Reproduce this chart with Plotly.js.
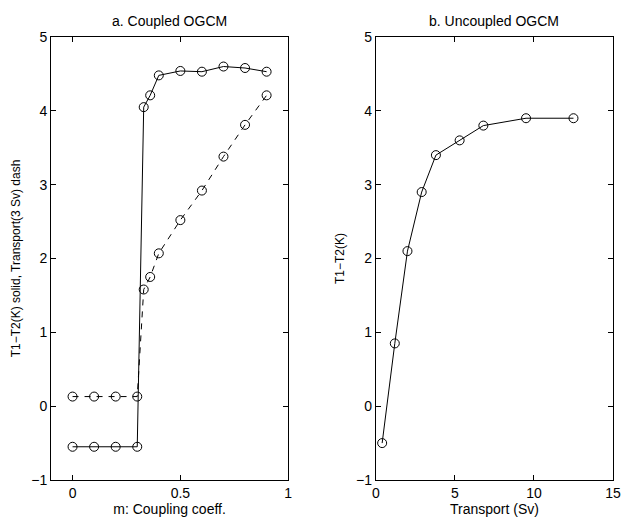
<!DOCTYPE html>
<html>
<head>
<meta charset="utf-8">
<script src="https://cdn.plot.ly/plotly-3.0.1.min.js"></script>
<style>html,body{margin:0;padding:0;background:#fff;}#chart{width:621px;height:517px;}</style>
</head>
<body>
<div id="chart"></div>
<script>
// Panel a: coupled OGCM
const couplingM = [0, 0.1, 0.2, 0.3, 0.33, 0.36, 0.4, 0.5, 0.6, 0.7, 0.8, 0.9];
const coupledDeltaT = [-0.55, -0.55, -0.55, -0.55, 4.05, 4.21, 4.48, 4.54, 4.53, 4.60, 4.58, 4.53];
const coupledTransport = [0.13, 0.13, 0.13, 0.13, 1.58, 1.75, 2.07, 2.52, 2.92, 3.38, 3.81, 4.21];
// Panel b: uncoupled OGCM
const uncoupledTransport = [0.4, 1.2, 2.0, 2.9, 3.8, 5.3, 6.8, 9.5, 12.5];
const uncoupledDeltaT = [-0.5, 0.85, 2.1, 2.9, 3.4, 3.6, 3.8, 3.9, 3.9];

const leftTicks = [0, 0.5, 1];
const leftTickText = ['0', '0.5', '1'];
const rightTicks = [0, 5, 10, 15];
const yTicks = [-1, 0, 1, 2, 3, 4, 5];

const FONT = 'Liberation Sans, Arial, Helvetica, sans-serif';
const marker = {symbol: 'circle-open', size: 9, color: '#000', line: {width: 1, color: '#000'}};

const traces = [
  {x: couplingM, y: coupledDeltaT, mode: 'lines+markers', line: {color: '#000', width: 1}, marker: marker, xaxis: 'x', yaxis: 'y'},
  {x: couplingM, y: coupledTransport, mode: 'lines+markers', line: {color: '#000', width: 1, dash: '6px,6px'}, marker: marker, xaxis: 'x', yaxis: 'y'},
  {x: uncoupledTransport, y: uncoupledDeltaT, mode: 'lines+markers', line: {color: '#000', width: 1}, marker: marker, xaxis: 'x2', yaxis: 'y2'}
];

const axisCommon = {
  showline: true, linecolor: '#000', linewidth: 1, mirror: 'ticks',
  ticks: 'inside', ticklen: 5, tickcolor: '#000', tickwidth: 1,
  showgrid: false, zeroline: false,
  tickfont: {family: FONT, size: 14, color: '#000'}
};

const layout = {
  width: 621, height: 517,
  paper_bgcolor: '#fff', plot_bgcolor: '#fff',
  showlegend: false,
  margin: {l: 51, r: 8, t: 37, b: 37},
  font: {family: FONT, color: '#000'},
  xaxis: Object.assign({}, axisCommon, {domain: [0, 0.422], range: [-0.1, 1], tickvals: leftTicks, ticktext: leftTickText,
    title: {text: 'm: Coupling coeff.', font: {family: FONT, size: 14}, standoff: 3}}),
  yaxis: Object.assign({}, axisCommon, {range: [-1, 5], tickvals: yTicks,
    title: {text: 'T1\u2212T2(K) solid, Transport(3 Sv) dash', font: {family: FONT, size: 12}, standoff: 8}}),
  xaxis2: Object.assign({}, axisCommon, {domain: [0.578, 1], range: [0, 15], tickvals: rightTicks, anchor: 'y2',
    title: {text: 'Transport (Sv)', font: {family: FONT, size: 14}, standoff: 3}}),
  yaxis2: Object.assign({}, axisCommon, {range: [-1, 5], tickvals: yTicks, anchor: 'x2',
    title: {text: 'T1\u2212T2(K)', font: {family: FONT, size: 12}, standoff: 8}}),
  annotations: [
    {text: 'a. Coupled OGCM', xref: 'x domain', yref: 'paper', x: 0.5, y: 1, yanchor: 'bottom', showarrow: false, font: {family: FONT, size: 14}, yshift: 6},
    {text: 'b. Uncoupled OGCM', xref: 'x2 domain', yref: 'paper', x: 0.5, y: 1, yanchor: 'bottom', showarrow: false, font: {family: FONT, size: 14}, yshift: 6}
  ]
};

Plotly.newPlot('chart', traces, layout, {displayModeBar: false, staticPlot: true});
</script>
</body>
</html>
